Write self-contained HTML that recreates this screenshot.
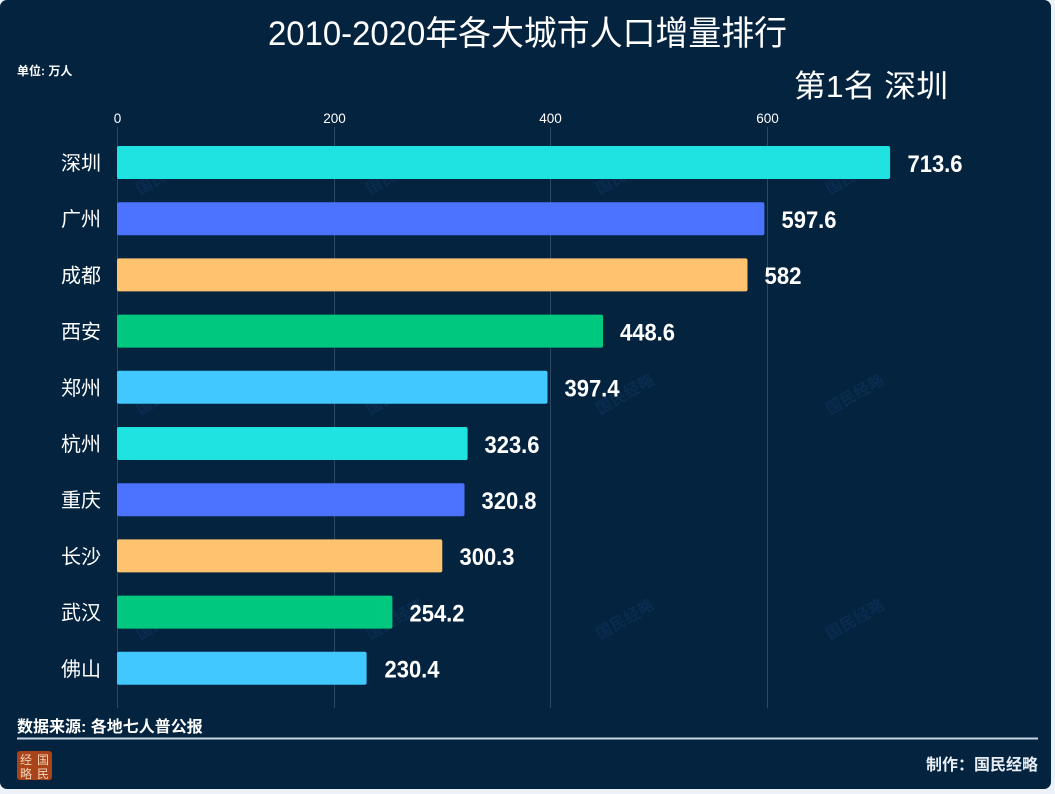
<!DOCTYPE html>
<html><head><meta charset="utf-8"><style>
html,body{margin:0;padding:0;background:#edf2f8;}
svg{display:block;}
text{font-family:"Liberation Sans","Noto Sans CJK SC",sans-serif;}
</style></head><body>
<svg width="1055" height="794" viewBox="0 0 1055 794" xmlns="http://www.w3.org/2000/svg">
<rect x="0" y="0" width="1055" height="794" fill="#edf2f8"/>
<rect x="0" y="0" width="1051" height="789" rx="7" fill="#04233f"/>
<!-- watermarks -->
<g fill="#0f3259" font-size="16" font-weight="bold" opacity="0.6">
<text transform="translate(140,195) rotate(-30)">国民经略</text>
<text transform="translate(370,195) rotate(-30)">国民经略</text>
<text transform="translate(600,195) rotate(-30)">国民经略</text>
<text transform="translate(830,195) rotate(-30)">国民经略</text>
<text transform="translate(140,415) rotate(-30)">国民经略</text>
<text transform="translate(370,415) rotate(-30)">国民经略</text>
<text transform="translate(600,415) rotate(-30)">国民经略</text>
<text transform="translate(830,415) rotate(-30)">国民经略</text>
<text transform="translate(140,640) rotate(-30)">国民经略</text>
<text transform="translate(370,640) rotate(-30)">国民经略</text>
<text transform="translate(600,640) rotate(-30)">国民经略</text>
<text transform="translate(830,640) rotate(-30)">国民经略</text>
</g>
<!-- title -->
<text x="268" y="45" font-size="34" fill="#ffffff" textLength="519" lengthAdjust="spacingAndGlyphs">2010-2020年各大城市人口增量排行</text>
<text x="17" y="75" font-size="12" font-weight="bold" fill="#ffffff">单位: 万人</text>
<text x="794" y="97" font-size="31" fill="#ffffff" textLength="154" lengthAdjust="spacingAndGlyphs">第1名 深圳</text>
<!-- grid -->
<g stroke="#2e4963" stroke-width="1">
<line x1="117.5" y1="127" x2="117.5" y2="708"/>
<line x1="334.5" y1="127" x2="334.5" y2="708"/>
<line x1="550.5" y1="127" x2="550.5" y2="708"/>
<line x1="767.5" y1="127" x2="767.5" y2="708"/>
</g>
<g font-size="13.5" fill="#ffffff" text-anchor="middle">
<text x="117.5" y="123">0</text>
<text x="334.5" y="123">200</text>
<text x="550.5" y="123">400</text>
<text x="767.5" y="123">600</text>
</g>
<!-- bars -->
<g>
<rect x="117" y="146" width="773.1" height="33" rx="2" fill="#1ee3e0"/>
<rect x="117" y="202.2" width="647.4" height="33" rx="2" fill="#4b73ff"/>
<rect x="117" y="258.4" width="630.5" height="33" rx="2" fill="#ffc26f"/>
<rect x="117" y="314.6" width="486" height="33" rx="2" fill="#00c97f"/>
<rect x="117" y="370.8" width="430.5" height="33" rx="2" fill="#40c8ff"/>
<rect x="117" y="427" width="350.6" height="33" rx="2" fill="#1ee3e0"/>
<rect x="117" y="483.2" width="347.5" height="33" rx="2" fill="#4b73ff"/>
<rect x="117" y="539.4" width="325.3" height="33" rx="2" fill="#ffc26f"/>
<rect x="117" y="595.6" width="275.4" height="33" rx="2" fill="#00c97f"/>
<rect x="117" y="651.8" width="249.6" height="33" rx="2" fill="#40c8ff"/>
</g>
<!-- category labels -->
<g font-size="20" fill="#ffffff" text-anchor="end">
<text x="101" y="170">深圳</text>
<text x="101" y="226.2">广州</text>
<text x="101" y="282.4">成都</text>
<text x="101" y="338.6">西安</text>
<text x="101" y="394.8">郑州</text>
<text x="101" y="451">杭州</text>
<text x="101" y="507.2">重庆</text>
<text x="101" y="563.4">长沙</text>
<text x="101" y="619.6">武汉</text>
<text x="101" y="675.8">佛山</text>
</g>
<!-- value labels -->
<g font-size="24" font-weight="bold" fill="#ffffff">
<text x="907.5" y="171.8" textLength="55" lengthAdjust="spacingAndGlyphs">713.6</text>
<text x="781.5" y="228" textLength="55" lengthAdjust="spacingAndGlyphs">597.6</text>
<text x="764.5" y="284.2" textLength="37" lengthAdjust="spacingAndGlyphs">582</text>
<text x="620" y="340.4" textLength="55" lengthAdjust="spacingAndGlyphs">448.6</text>
<text x="564.5" y="396.6" textLength="55" lengthAdjust="spacingAndGlyphs">397.4</text>
<text x="484.5" y="452.8" textLength="55" lengthAdjust="spacingAndGlyphs">323.6</text>
<text x="481.5" y="509" textLength="55" lengthAdjust="spacingAndGlyphs">320.8</text>
<text x="459.5" y="565.2" textLength="55" lengthAdjust="spacingAndGlyphs">300.3</text>
<text x="409.5" y="621.4" textLength="55" lengthAdjust="spacingAndGlyphs">254.2</text>
<text x="384.5" y="677.6" textLength="55" lengthAdjust="spacingAndGlyphs">230.4</text>
</g>
<!-- footer -->
<text x="17" y="732" font-size="16" font-weight="bold" fill="#ffffff">数据来源: 各地七人普公报</text>
<line x1="17" y1="738.5" x2="1038" y2="738.5" stroke="#c9d5e2" stroke-width="2"/>
<text x="1038" y="770" font-size="16" font-weight="bold" fill="#e8eef5" text-anchor="end">制作：国民经略</text>
<rect x="17" y="751" width="35" height="29" rx="3" fill="#a8431a"/>
<g font-size="12" fill="#f3d6b8" text-anchor="middle">
<text x="26" y="764">经</text>
<text x="43" y="764">国</text>
<text x="26" y="778">略</text>
<text x="43" y="778">民</text>
</g>
</svg>
</body></html>
